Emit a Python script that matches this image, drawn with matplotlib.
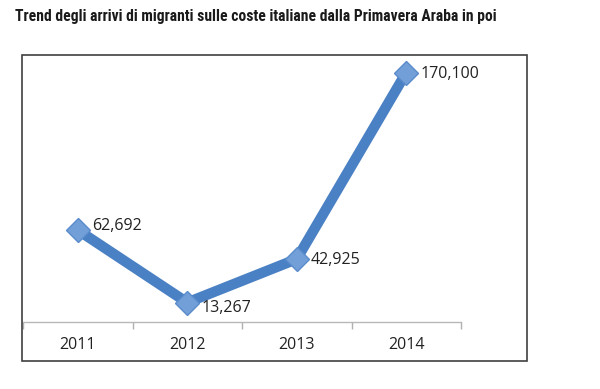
import matplotlib
matplotlib.use("Agg")
import matplotlib.pyplot as plt
from matplotlib.patches import Rectangle
from matplotlib import font_manager

years = ["2011", "2012", "2013", "2014"]
arrivals = [62692, 13267, 42925, 170100]
title = "Trend degli arrivi di migranti sulle coste italiane dalla Primavera Araba in poi"

names = {f.name for f in font_manager.fontManager.ttflist}
title_font = "DejaVu Sans"
for cand in ["Liberation Sans Narrow", "Roboto Condensed", "Open Sans Condensed", "Lato"]:
    if cand in names:
        title_font = cand
        break
label_font = "Open Sans" if "Open Sans" in names else "DejaVu Sans"

W, H = 600, 389
fig = plt.figure(figsize=(6.0, 3.89), dpi=100)
fig.patch.set_facecolor("white")

# outer frame
fig.patches.append(Rectangle((22 / W, 1 - 361 / H), (527 - 22) / W, (361 - 55) / H,
                             transform=fig.transFigure, fill=False,
                             edgecolor="#3f3f3f", linewidth=1.2))

t = fig.text(15 / W, 1 - 17 / H, title, fontsize=10, fontweight="bold",
             family=title_font, color="#1a1a1a", va="center", ha="left")
renderer = fig.canvas.get_renderer()
w = t.get_window_extent(renderer).width
t.set_fontsize(min(12, 10 * 483 / w))

ax = fig.add_axes([23 / W, 1 - 322 / H, (461 - 23) / W, (322 - 58) / H])
x = list(range(len(years)))
ax.plot(x, arrivals, color="#4a80c4", linewidth=7.5, solid_joinstyle="miter",
        marker="D", markersize=12.5, markerfacecolor="#739fd8",
        markeredgecolor="#5a8bcb", markeredgewidth=1.0, zorder=3)

label_offsets = [(10, 3), (10, -4), (10, -1), (10, -1)]
for xi, v, off in zip(x, arrivals, label_offsets):
    ax.annotate(f"{v:,}", (xi, v), xytext=off, textcoords="offset points",
                ha="left", va="center", fontsize=11.5, family=label_font,
                color="#222222")

ax.set_xlim(-0.5, 3.5)
ax.set_ylim(0, 180000)
ax.set_yticks([])
ax.set_xticks(x)
ax.set_xticklabels(years, fontsize=11.5, family=label_font, color="#222222")
ax.set_xticks([-0.5, 0.5, 1.5, 2.5, 3.5], minor=True)
ax.tick_params(axis="x", which="major", length=0, pad=11)
ax.tick_params(axis="x", which="minor", length=5, color="#b0b0b0", width=1)
for s in ["top", "right", "left"]:
    ax.spines[s].set_visible(False)
ax.spines["bottom"].set_color("#b8b8b8")
ax.spines["bottom"].set_linewidth(1)
ax.patch.set_alpha(0)

fig.savefig("out.png", dpi=100, facecolor="white")
